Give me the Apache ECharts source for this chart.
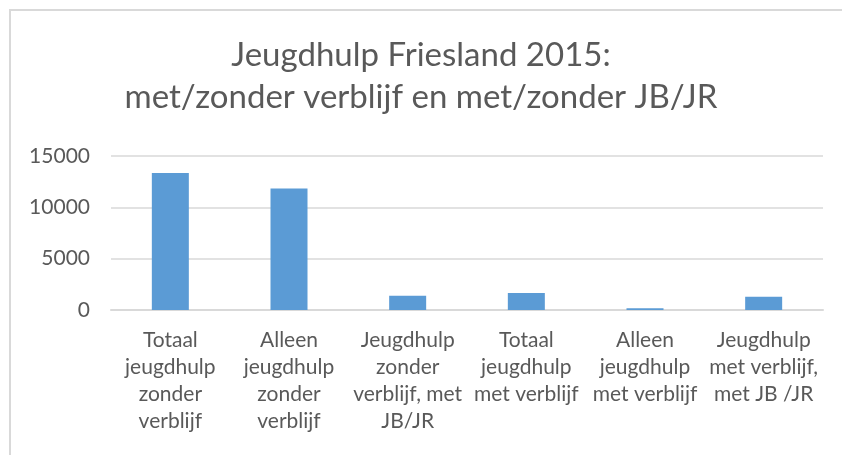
<!DOCTYPE html>
<html>
<head>
<meta charset="utf-8">
<script src="https://cdn.jsdelivr.net/npm/echarts@6/dist/echarts.min.js"></script>
<style>
  html, body { margin: 0; padding: 0; background: #fff; }
  #main { width: 842px; height: 455px; }
</style>
</head>
<body>
<div id="main"></div>
<script>
// categorieen (met regelafbreking zoals in het origineel)
const categories = [
  'Totaal\njeugdhulp\nzonder\nverblijf',
  'Alleen\njeugdhulp\nzonder\nverblijf',
  'Jeugdhulp\nzonder\nverblijf, met\nJB/JR',
  'Totaal\njeugdhulp\nmet verblijf',
  'Alleen\njeugdhulp\nmet verblijf',
  'Jeugdhulp\nmet verblijf,\nmet JB /JR'
];
const values = [13340, 11840, 1400, 1660, 160, 1300];
const yTicks = [0, 5000, 10000, 15000];

const font = 'Lato, "Open Sans", sans-serif';

let myChart = echarts.init(document.getElementById('main'));
let option = {
  backgroundColor: '#fff',
  animation: false,
  title: {
    text: 'Jeugdhulp Friesland 2015:\nmet/zonder verblijf en met/zonder JB/JR',
    left: 'center',
    top: 29,
    textStyle: {
      fontFamily: font,
      fontWeight: 'normal',
      fontSize: 33,
      color: '#595959',
      lineHeight: 42
    }
  },
  graphic: [{
    type: 'rect',
    shape: { x: 10, y: 10, width: 900, height: 500 },
    style: { fill: 'none', stroke: '#d9d9d9', lineWidth: 2 },
    silent: true
  }],
  grid: { left: 111, right: 19, top: 156, bottom: 145 },
  xAxis: {
    type: 'category',
    data: categories,
    axisLine: { lineStyle: { color: '#d9d9d9', width: 2 } },
    axisTick: { show: false },
    axisLabel: {
      interval: 0,
      margin: 17,
      fontFamily: font,
      fontSize: 21,
      lineHeight: 27,
      color: '#595959'
    }
  },
  yAxis: {
    type: 'value',
    min: yTicks[0],
    max: yTicks[yTicks.length - 1],
    interval: 5000,
    axisLine: { show: false },
    axisTick: { show: false },
    splitLine: { lineStyle: { color: '#d9d9d9', width: 1.5 } },
    axisLabel: {
      margin: 21,
      fontFamily: font,
      fontSize: 21,
      color: '#595959',
      formatter: function (v) { return String(v); }
    }
  },
  series: [{
    type: 'bar',
    data: values,
    barWidth: 37,
    itemStyle: { color: '#5b9bd5' }
  }]
};
myChart.setOption(option);
</script>
</body>
</html>
